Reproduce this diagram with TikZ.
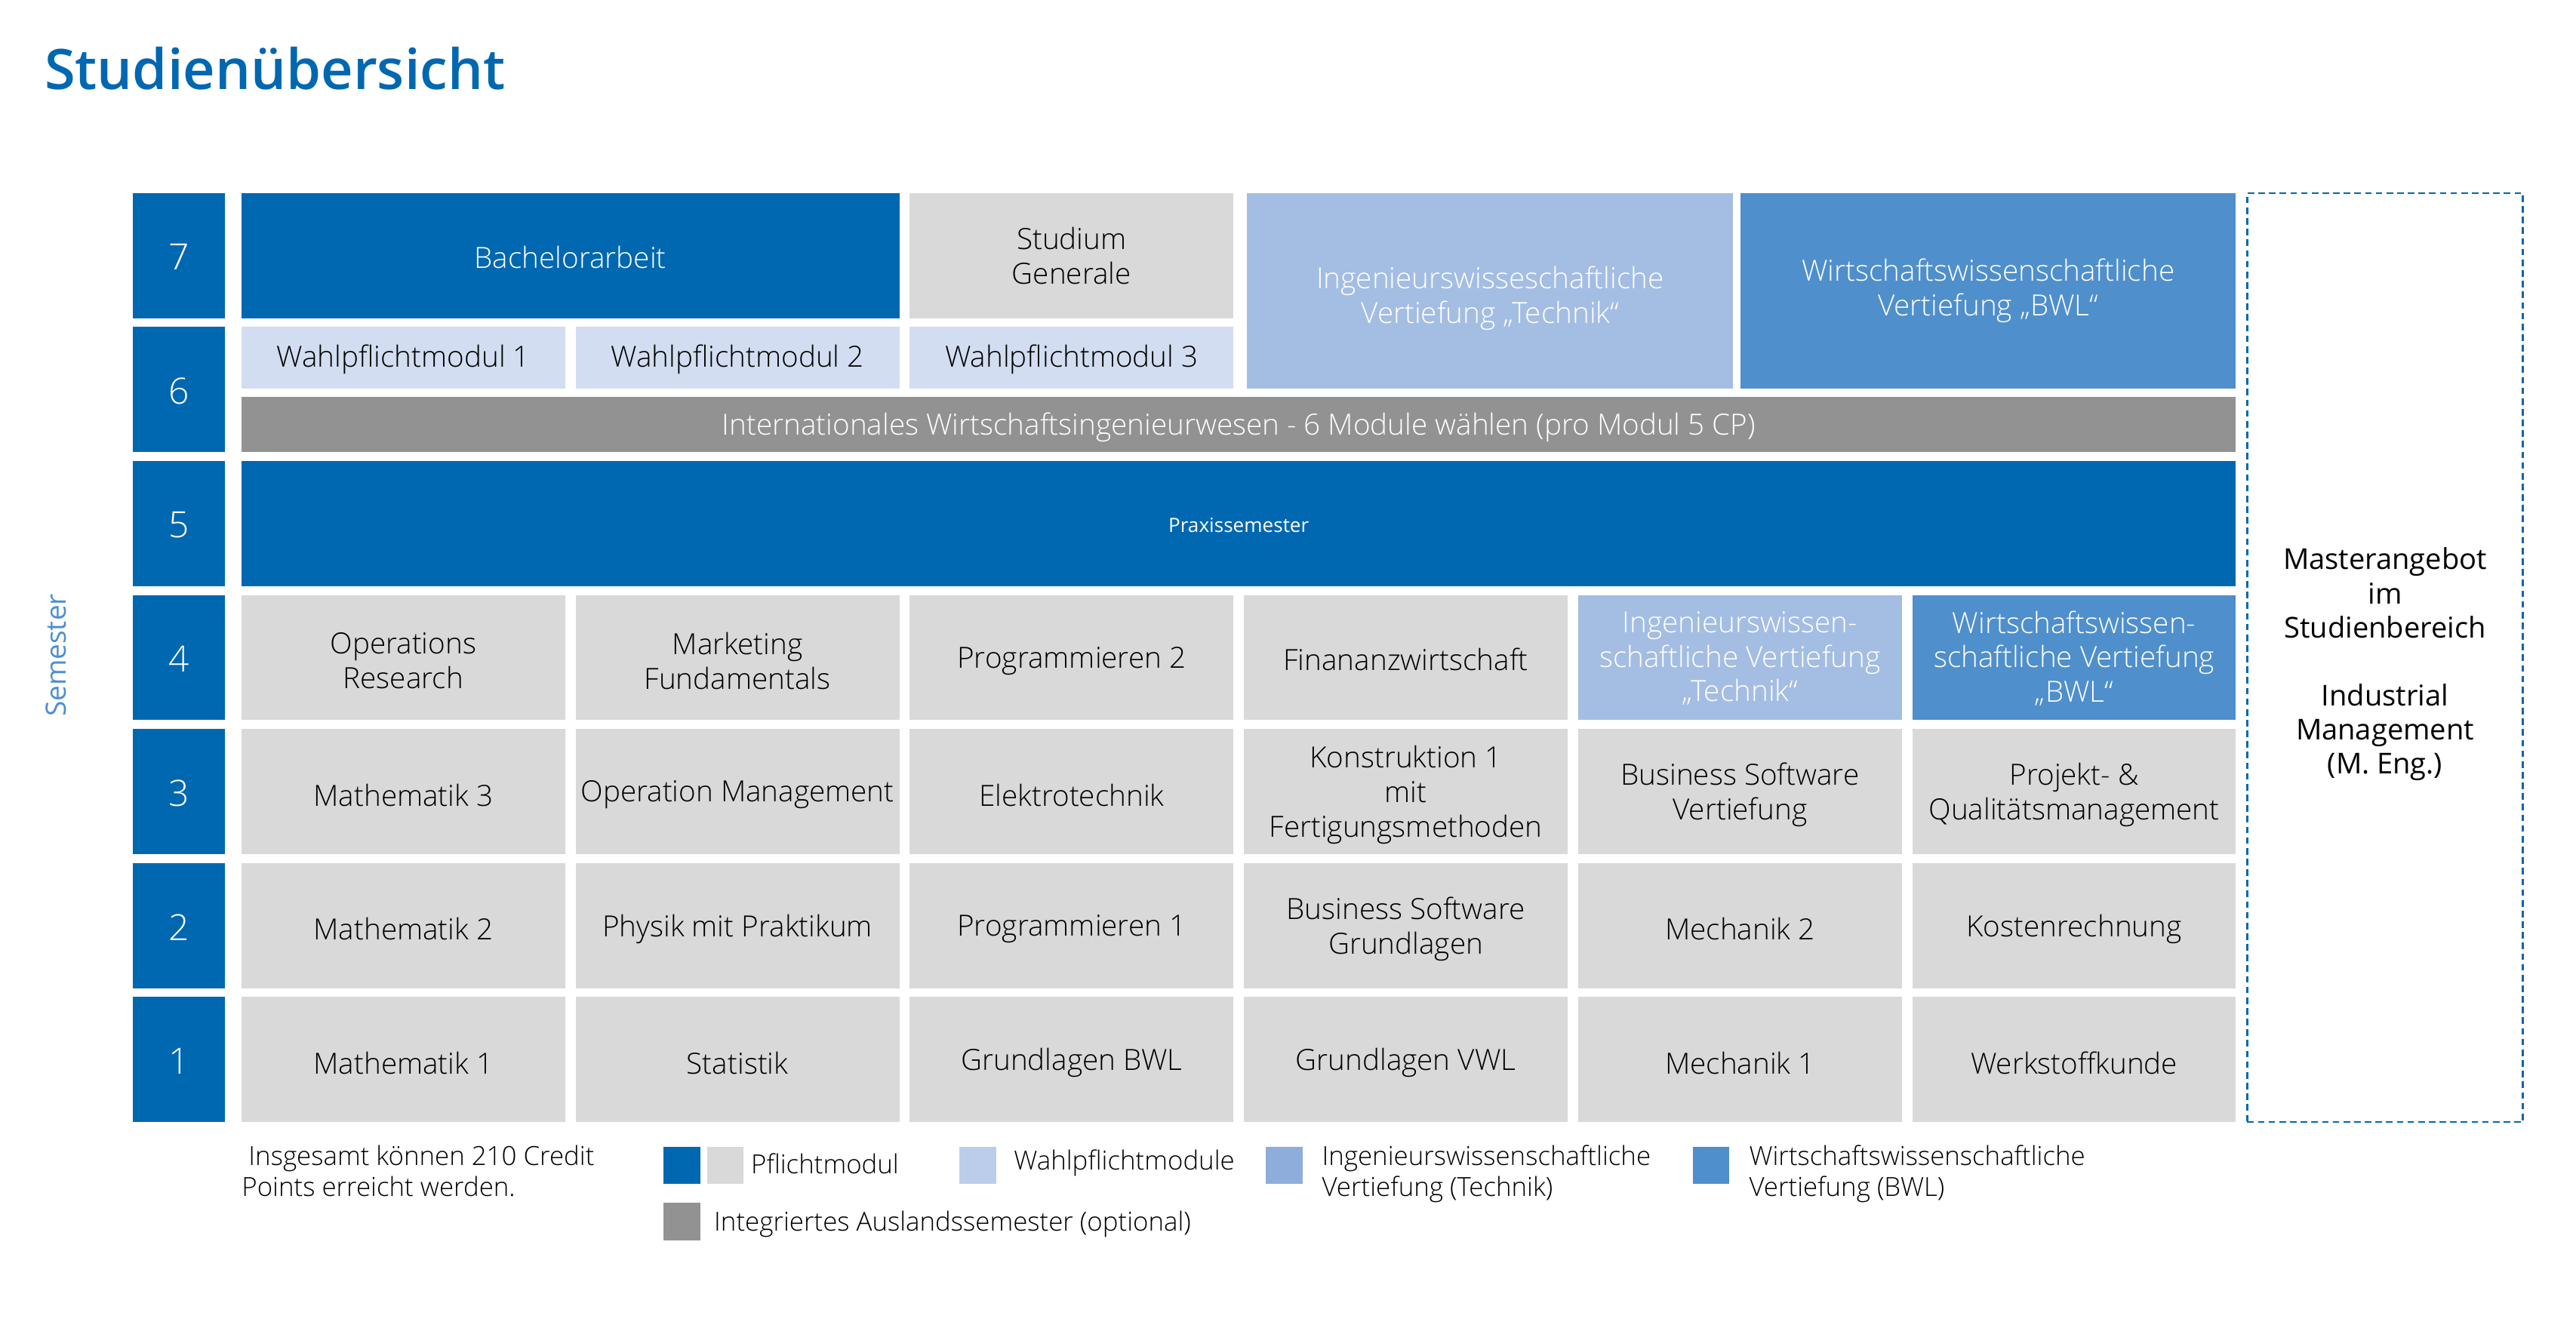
\documentclass[tikz,border=0pt]{standalone}
\usepackage{fontspec}
\setmainfont{Open Sans Light}
\newfontfamily\osreg{Open Sans}
\IfFontExistsTF{Open Sans SemiBold}{\newfontfamily\ossemi{Open Sans SemiBold}}{%
  \IfFontExistsTF{Open Sans Semibold}{\newfontfamily\ossemi{Open Sans Semibold}}{%
    \newfontfamily\ossemi{Open Sans Bold}}}
\definecolor{dblue}{HTML}{0067B1}
\definecolor{lgray}{HTML}{D9D9D9}
\definecolor{wahl}{HTML}{D2DDF1}
\definecolor{wahlleg}{HTML}{BBCDEB}
\definecolor{ingen}{HTML}{A4BDE3}
\definecolor{ingenleg}{HTML}{8EADDB}
\definecolor{wirt}{HTML}{4F8FCC}
\definecolor{igray}{HTML}{929292}
\definecolor{semblue}{HTML}{4A90D2}
% box from (x1,y1) to (x2,y2) with its text:
% [text offset in pt], name, style, x1, y1, x2, y2, text
\newcommand\rbox[8][-2]{%
  \pgfmathsetmacro\rcx{(#4+#6)/2}%
  \pgfmathsetmacro\rcy{(#5+#7)/2}%
  \pgfmathsetmacro\rw{#6-#4}%
  \pgfmathsetmacro\rh{#7-#5}%
  \node[#3, minimum width=\rw pt, minimum height=\rh pt] (#2) at (\rcx,\rcy) {};
  \node[#3, draw=none, fill=none] (#2-t) at ([yshift=#1 pt]#2.center) {#8};}
% plain swatch: name, colour, x1, y1, x2, y2
\newcommand\swbox[6]{%
  \pgfmathsetmacro\rcx{(#3+#5)/2}%
  \pgfmathsetmacro\rcy{(#4+#6)/2}%
  \pgfmathsetmacro\rw{#5-#3}%
  \pgfmathsetmacro\rh{#6-#4}%
  \node[swatch, fill=#2, minimum width=\rw pt, minimum height=\rh pt] (#1) at (\rcx,\rcy) {};}
% module cell: [offset], name, column, semester, style, text
\newcommand\modcell[6][-2]{%
  \pgfmathsetmacro\mxa{147+(#3-1)*203.4}%
  \pgfmathsetmacro\mxb{\mxa+197}%
  \pgfmathsetmacro\mya{117.5+(7-#4)*81.6}%
  \pgfmathsetmacro\myb{\mya+76.2}%
  \rbox[#1]{#2}{#5}{\mxa}{\mya}{\mxb}{\myb}{#6}}
\begin{document}
\begin{tikzpicture}[x=1pt,y=-1pt,
  base/.style={inner sep=0pt, outer sep=0pt, align=center, font=\fontsize{17.75}{21}\selectfont},
  pfl/.style={base, fill=lgray, text=black},
  pfb/.style={base, fill=dblue, text=white},
  wpm/.style={base, fill=wahl, text=black},
  ing/.style={base, fill=ingen, text=white},
  wir/.style={base, fill=wirt, text=white},
  aus/.style={base, fill=igray, text=white},
  sem/.style={base, fill=dblue, text=white, font=\fontsize{22}{26}\selectfont},
  legtext/.style={inner sep=0pt, anchor=base west, align=left, font=\fontsize{16}{19}\selectfont},
  swatch/.style={inner sep=0pt, outer sep=0pt}]
\fill[white] (0,0) rectangle (1568,814);
\useasboundingbox (0,0) rectangle (1568,814);

% title
\node[anchor=base west, inner sep=0pt, text=dblue, font=\ossemi\fontsize{34}{40}\selectfont] (title) at (27,54.4) {Studienübersicht};

% semester label
\node[rotate=90, inner sep=0pt, text=semblue, font=\osreg\fontsize{17}{20}\selectfont] (semlabel) at (34.3,399) {Semester};

% semester numbers
\foreach \r in {1,...,7}{
  \pgfmathsetmacro\sya{117.5+(7-\r)*81.6}
  \pgfmathsetmacro\syb{\sya+76.2}
  \rbox[-1]{s\r}{sem}{80.9}{\sya}{136.9}{\syb}{\r}
}

% semester 7 and 6
\rbox[-1]{bach}{pfb}{147}{117.5}{547.4}{193.7}{Bachelorarbeit}
\rbox[0]{stgen}{pfl}{553.8}{117.5}{750.8}{193.7}{Studium\\Generale}
\rbox[-4.5]{ingtop}{ing}{759}{117.5}{1055}{236.6}{Ingenieurswisseschaftliche\\Vertiefung „Technik“}
\rbox[0]{wirtop}{wir}{1059.4}{117.5}{1361}{236.6}{Wirtschaftswissenschaftliche\\Vertiefung „BWL“}
\rbox[-1]{wp1}{wpm}{147}{199.1}{344}{236.6}{Wahlpflichtmodul 1}
\rbox[-1]{wp2}{wpm}{350.4}{199.1}{547.4}{236.6}{Wahlpflichtmodul 2}
\rbox[-1]{wp3}{wpm}{553.8}{199.1}{750.8}{236.6}{Wahlpflichtmodul 3}
\rbox[-2]{intl}{aus}{147}{241.5}{1361}{275.3}{Internationales Wirtschaftsingenieurwesen - 6 Module wählen (pro Modul 5 CP)}

% semester 5
\rbox[-1]{praxis}{pfb, font=\osreg\fontsize{12}{14}\selectfont}{147}{280.7}{1361}{356.9}{Praxissemester}

% semester 4
\modcell{m41}{1}{4}{pfl}{Operations\\Research}
\modcell{m42}{2}{4}{pfl}{Marketing\\Fundamentals}
\modcell{m43}{3}{4}{pfl}{Programmieren 2}
\modcell[-1]{m44}{4}{4}{pfl}{Finananzwirtschaft}
\modcell[-0.5]{m45}{5}{4}{ing}{Ingenieurswissen-\\schaftliche Vertiefung\\„Technik“}
\modcell[-0.5]{m46}{6}{4}{wir}{Wirtschaftswissen-\\schaftliche Vertiefung\\„BWL“}

% semester 3
\modcell{m31}{1}{3}{pfl}{Mathematik 3}
\modcell{m32}{2}{3}{pfl}{Operation Management}
\modcell{m33}{3}{3}{pfl}{Elektrotechnik}
\modcell{m34}{4}{3}{pfl}{Konstruktion 1\\mit\\Fertigungsmethoden}
\modcell{m35}{5}{3}{pfl}{Business Software\\Vertiefung}
\modcell{m36}{6}{3}{pfl}{Projekt- \&\\Qualitätsmanagement}

% semester 2
\modcell{m21}{1}{2}{pfl}{Mathematik 2}
\modcell{m22}{2}{2}{pfl}{Physik mit Praktikum}
\modcell{m23}{3}{2}{pfl}{Programmieren 1}
\modcell{m24}{4}{2}{pfl}{Business Software\\Grundlagen}
\modcell{m25}{5}{2}{pfl}{Mechanik 2}
\modcell{m26}{6}{2}{pfl}{Kostenrechnung}

% semester 1
\modcell{m11}{1}{1}{pfl}{Mathematik 1}
\modcell{m12}{2}{1}{pfl}{Statistik}
\modcell{m13}{3}{1}{pfl}{Grundlagen BWL}
\modcell{m14}{4}{1}{pfl}{Grundlagen VWL}
\modcell{m15}{5}{1}{pfl}{Mechanik 1}
\modcell{m16}{6}{1}{pfl}{Werkstoffkunde}

% master box
\rbox[-4]{master}{draw=dblue, line width=1pt, dash pattern=on 4pt off 2.5pt, inner sep=0pt, align=center,
      font=\osreg\fontsize{17.5}{20.7}\selectfont}{1367.9}{117.5}{1535.6}{683.3}
  {Masterangebot\\im\\Studienbereich\\[20.7pt]Industrial\\Management\\(M. Eng.)}

% legend
\node[legtext] (credits) at (147,728.5) {\ Insgesamt können 210 Credit\\Points erreicht werden.};
\swbox{lg1}{dblue}{404}{698.3}{426.5}{721}
\swbox{lg2}{lgray}{430.5}{698.3}{452.5}{721}
\node[legtext] (lt1) at (457,714.5) {Pflichtmodul};
\swbox{lg3}{wahlleg}{584}{698.3}{606.5}{721}
\node[legtext] (lt2) at (617,712.5) {Wahlpflichtmodule};
\swbox{lg4}{ingenleg}{770.5}{698.3}{793}{721}
\node[legtext] (lt3) at (804.5,728.5) {Ingenieurswissenschaftliche\\Vertiefung (Technik)};
\swbox{lg5}{wirt}{1030.3}{698.3}{1052.5}{721}
\node[legtext] (lt4) at (1064.5,728.5) {Wirtschaftswissenschaftliche\\Vertiefung (BWL)};
\swbox{lg6}{igray}{404}{732.4}{426.5}{755.4}
\node[legtext] (lt5) at (434.5,749.5) {Integriertes Auslandssemester (optional)};
\end{tikzpicture}
\end{document}
